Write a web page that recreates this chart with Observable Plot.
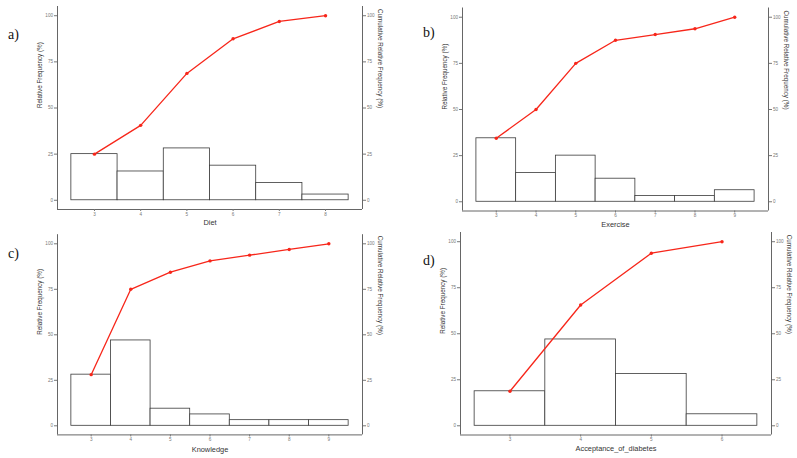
<!DOCTYPE html>
<html>
<head>
<meta charset="utf-8">
<script src="https://cdn.jsdelivr.net/npm/d3@7"></script>
<script src="https://cdn.jsdelivr.net/npm/@observablehq/plot@0.6"></script>
<style>
  html, body { margin: 0; padding: 0; background: #fff; }
  #wrap { position: relative; width: 797px; height: 458px; overflow: hidden; background: #fff; }
  .panel { position: absolute; }
  .tag { position: absolute; font-family: "Liberation Serif", "Times New Roman", serif; font-size: 14px; color: #111; line-height: 1; }
</style>
</head>
<body>
<div id="wrap"></div>
<script>
// ---- data ----
const yTicks = [0, 25, 50, 75, 100];

const dietScores = [3, 4, 5, 6, 7, 8];
const dietRel    = [25, 15.6, 28.1, 18.75, 9.4, 3.1];
const dietCum    = [25, 40.6, 68.75, 87.5, 96.9, 100];

const exerciseScores = [3, 4, 5, 6, 7, 8, 9];
const exerciseRel    = [34.4, 15.6, 25, 12.5, 3.1, 3.1, 6.25];
const exerciseCum    = [34.4, 50, 75, 87.5, 90.6, 93.75, 100];

const knowledgeScores = [3, 4, 5, 6, 7, 8, 9];
const knowledgeRel    = [28.1, 46.9, 9.4, 6.25, 3.1, 3.1, 3.1];
const knowledgeCum    = [28.1, 75, 84.4, 90.6, 93.75, 96.9, 100];

const acceptScores = [3, 4, 5, 6];
const acceptRel    = [18.75, 46.9, 28.1, 6.25];
const acceptCum    = [18.75, 65.6, 93.75, 100];

const panelTags   = ["a)", "b)", "c)", "d)"];
const panelTitles = ["Diet", "Exercise", "Knowledge", "Acceptance_of_diabetes"];
const leftTitle  = "Relative Frequency (%)";
const rightTitle = "Cumulative Relative Frequency (%)";

// ---- layout ----
const panels = [
  {scores: dietScores, rel: dietRel, cum: dietCum, left: 0, top: 0, width: 400, height: 229,
   mL: 57, mR: 38, mT: 6, mB: 20, xdy: 12.7, tag: [8, 28]},
  {scores: exerciseScores, rel: exerciseRel, cum: exerciseCum, left: 400, top: 0, width: 397, height: 229,
   mL: 62, mR: 29, mT: 7.5, mB: 18.5, xdy: 13.3, tag: [23, 26]},
  {scores: knowledgeScores, rel: knowledgeRel, cum: knowledgeCum, left: 0, top: 229, width: 400, height: 229,
   mL: 57, mR: 38, mT: 5.2, mB: 23.6, xdy: 14.3, tag: [8, 18]},
  {scores: acceptScores, rel: acceptRel, cum: acceptCum, left: 400, top: 229, width: 397, height: 229,
   mL: 60, mR: 26, mT: 3, mB: 23.5, xdy: 14, tag: [23, 25]}
];

const red = "#f7261a";
const axisCol = "#666";
const tickCol = "#777";
const wrap = document.getElementById("wrap");

panels.forEach((p, i) => {
  const data = p.scores.map((s, k) => ({s, rel: p.rel[k], cum: p.cum[k]}));
  const lo = d3.min(p.scores) - 0.5, hi = d3.max(p.scores) + 0.5;
  const pad = 0.05 * (hi - lo);
  const xDom = [lo - pad, hi + pad];
  const yDom = [-5, 105];

  const chart = Plot.plot({
    width: p.width, height: p.height,
    marginLeft: p.mL, marginRight: p.mR, marginTop: p.mT, marginBottom: p.mB,
    style: {fontFamily: "'Liberation Sans', Arial, sans-serif", background: "transparent", overflow: "visible"},
    x: {domain: xDom},
    y: {domain: yDom},
    marks: [
      Plot.rectY(data, {x1: d => d.s - 0.5, x2: d => d.s + 0.5, y: "rel", fill: "white", stroke: "#3a3a3a", strokeWidth: 0.8}),
      Plot.line(data, {x: "s", y: "cum", stroke: red, strokeWidth: 1.3}),
      Plot.dot(data, {x: "s", y: "cum", r: 1.7, fill: red, stroke: "none"}),
      Plot.ruleX([xDom[0]], {stroke: axisCol, strokeWidth: 1}),
      Plot.ruleX([xDom[1]], {stroke: axisCol, strokeWidth: 1}),
      Plot.ruleY([yDom[0]], {stroke: axisCol, strokeWidth: 1}),
      Plot.axisX({ticks: p.scores, tickFormat: d => String(d), tickSize: 2, tickPadding: 1, fontSize: 4.6, color: tickCol, label: null}),
      Plot.axisY({anchor: "left", ticks: yTicks, tickSize: 3, tickPadding: 1.5, fontSize: 4.6, color: tickCol, label: null}),
      Plot.axisY({anchor: "right", ticks: yTicks, tickSize: 3, tickPadding: 1.5, fontSize: 4.6, color: tickCol, label: null}),
      Plot.text([panelTitles[i]], {frameAnchor: "bottom", dy: p.xdy, lineAnchor: "middle", fontSize: 7.4, fill: "#333"}),
      Plot.text([leftTitle], {frameAnchor: "left", dx: -18, rotate: -90, lineAnchor: "middle", fontSize: 6.3, fill: "#333"}),
      Plot.text([rightTitle], {frameAnchor: "right", dx: 18, rotate: 90, lineAnchor: "middle", fontSize: 6.3, fill: "#333"})
    ]
  });

  const div = document.createElement("div");
  div.className = "panel";
  div.style.left = p.left + "px";
  div.style.top = p.top + "px";
  div.appendChild(chart);
  wrap.appendChild(div);

  const tag = document.createElement("div");
  tag.className = "tag";
  tag.textContent = panelTags[i];
  tag.style.left = (p.left + p.tag[0]) + "px";
  tag.style.top = (p.top + p.tag[1]) + "px";
  wrap.appendChild(tag);
});
</script>
</body>
</html>
